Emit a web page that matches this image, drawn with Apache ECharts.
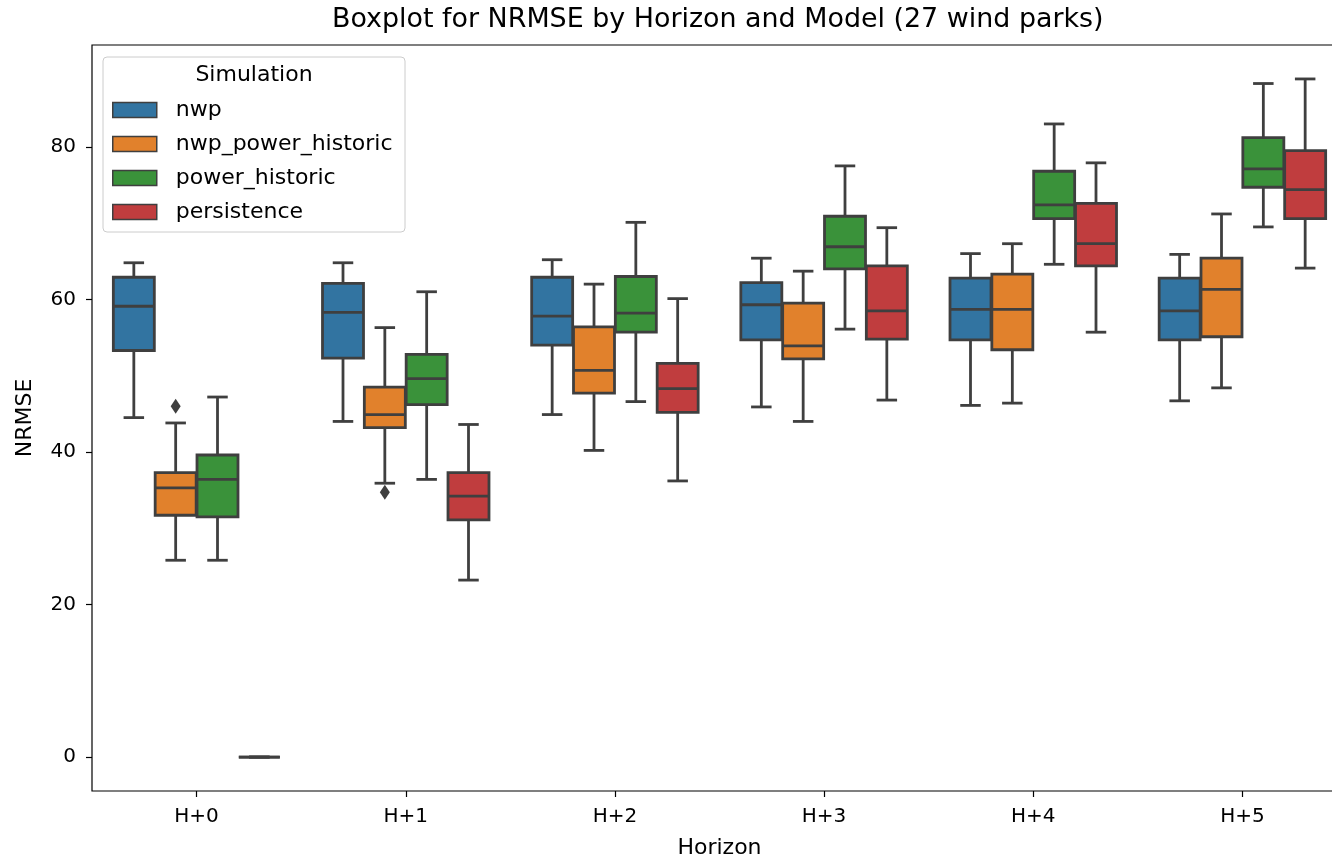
<!DOCTYPE html>
<html>
<head>
<meta charset="utf-8">
<title>Boxplot for NRMSE by Horizon and Model</title>
<script src="https://cdn.jsdelivr.net/npm/echarts@6/dist/echarts.min.js"></script>
<style>
  html, body { margin: 0; padding: 0; background: #fff; }
  #chart { width: 1332px; height: 859px; }
</style>
</head>
<body>
<div id="chart"></div>
<script>
// horizons on the x axis
const horizons = ['H+0', 'H+1', 'H+2', 'H+3', 'H+4', 'H+5']
const modelNames = ['nwp', 'nwp_power_historic', 'power_historic', 'persistence']
const modelColors = ['#3274a1', '#e1812c', '#3a923a', '#c03d3e']

// [whisker low, Q1, median, Q3, whisker high] per horizon
const nwpStats = [
  [44.5, 53.3, 59.1, 62.9, 64.8],
  [44.0, 52.3, 58.3, 62.1, 64.8],
  [44.9, 54.0, 57.8, 62.9, 65.2],
  [45.9, 54.7, 59.3, 62.2, 65.4],
  [46.1, 54.7, 58.7, 62.8, 66.0],
  [46.7, 54.7, 58.5, 62.8, 65.9]
]
const nwpPowerHistoricStats = [
  [25.8, 31.7, 35.3, 37.3, 43.8],
  [35.9, 43.2, 44.9, 48.5, 56.3],
  [40.2, 47.7, 50.7, 56.4, 62.0],
  [44.0, 52.2, 53.9, 59.5, 63.7],
  [46.4, 53.4, 58.7, 63.3, 67.3],
  [48.4, 55.1, 61.3, 65.4, 71.2]
]
const powerHistoricStats = [
  [25.8, 31.5, 36.4, 39.6, 47.2],
  [36.4, 46.2, 49.6, 52.8, 61.0],
  [46.6, 55.7, 58.2, 63.0, 70.1],
  [56.1, 64.0, 66.9, 70.9, 77.5],
  [64.6, 70.6, 72.4, 76.8, 83.0],
  [69.5, 74.7, 77.1, 81.2, 88.3]
]
const persistenceStats = [
  [0, 0, 0, 0, 0],
  [23.2, 31.1, 34.2, 37.3, 43.6],
  [36.2, 45.2, 48.3, 51.6, 60.1],
  [46.8, 54.8, 58.5, 64.4, 69.4],
  [55.7, 64.4, 67.3, 72.6, 77.9],
  [64.1, 70.6, 74.4, 79.5, 88.9]
]
// [horizon index, model index, value]
const outliers = [
  [0, 1, 46.0],
  [1, 1, 34.7]
]
const yTicks = [0, 20, 40, 60, 80]

const allStats = [nwpStats, nwpPowerHistoricStats, powerHistoricStats, persistenceStats]
const lineColor = '#3f3f3f'
const lineW = 2.8
const font = 'DejaVu Sans'

// seaborn style: hue boxes share 0.8 of the band
function hueOffset(band, hue) {
  const slot = band * 0.8 / modelNames.length
  return (hue - (modelNames.length - 1) / 2) * slot
}

function renderBox(hue) {
  return function (params, api) {
    const cat = api.value(0)
    const band = api.size([1, 0])[0]
    const boxW = band * 0.8 / modelNames.length * 0.98
    const cx = api.coord([cat, 0])[0] + hueOffset(band, hue)
    const y = [1, 2, 3, 4, 5].map(i => api.coord([cat, api.value(i)])[1])
    const line = { stroke: lineColor, lineWidth: lineW }
    const cap = boxW / 4
    return {
      type: 'group',
      children: [
        { type: 'line', shape: { x1: cx, y1: y[1], x2: cx, y2: y[0] }, style: line },
        { type: 'line', shape: { x1: cx, y1: y[3], x2: cx, y2: y[4] }, style: line },
        { type: 'line', shape: { x1: cx - cap, y1: y[0], x2: cx + cap, y2: y[0] }, style: line },
        { type: 'line', shape: { x1: cx - cap, y1: y[4], x2: cx + cap, y2: y[4] }, style: line },
        {
          type: 'rect',
          shape: { x: cx - boxW / 2, y: y[3], width: boxW, height: y[1] - y[3] },
          style: { fill: api.visual('color'), stroke: lineColor, lineWidth: lineW }
        },
        { type: 'line', shape: { x1: cx - boxW / 2, y1: y[2], x2: cx + boxW / 2, y2: y[2] }, style: line }
      ]
    }
  }
}

function renderOutlier(params, api) {
  const cat = api.value(0)
  const band = api.size([1, 0])[0]
  const p = api.coord([cat, api.value(2)])
  const cx = p[0] + hueOffset(band, api.value(1))
  const h = 7.5, w = 5
  return {
    type: 'polygon',
    shape: { points: [[cx, p[1] - h], [cx + w, p[1]], [cx, p[1] + h], [cx - w, p[1]]] },
    style: { fill: lineColor }
  }
}

const series = modelNames.map((name, hue) => ({
  name: name,
  type: 'custom',
  renderItem: renderBox(hue),
  itemStyle: { color: modelColors[hue] },
  encode: { x: 0, y: [1, 2, 3, 4, 5] },
  data: allStats[hue].map((s, i) => [i].concat(s))
}))
series.push({
  name: 'outliers',
  type: 'custom',
  renderItem: renderOutlier,
  encode: { x: 0, y: 2 },
  data: outliers
})

const myChart = echarts.init(document.getElementById('chart'))
const options = {
  animation: false,
  textStyle: { fontFamily: font },
  title: {
    text: 'Boxplot for NRMSE by Horizon and Model (27 wind parks)',
    left: 332,
    top: 7,
    padding: 0,
    textStyle: { fontFamily: font, fontSize: 26.9, fontWeight: 'normal', color: '#000' }
  },
  grid: {
    left: 92,
    top: 45,
    width: 1255,
    height: 746,
    show: true,
    borderColor: '#000',
    borderWidth: 1.2,
    containLabel: false,
    outerBoundsMode: 'none'
  },
  legend: {
    data: modelNames,
    orient: 'vertical',
    left: 112,
    top: 99,
    padding: 0,
    icon: 'rect',
    itemWidth: 44,
    itemHeight: 15,
    itemGap: 12,
    itemStyle: { borderColor: lineColor, borderWidth: 1.5 },
    textStyle: { fontFamily: font, fontSize: 22, color: '#000', padding: [0, 0, 0, 14] }
  },
  graphic: [
    {
      type: 'rect',
      z: 0,
      shape: { x: 103, y: 57, width: 302, height: 175, r: 4 },
      style: { fill: 'rgba(255,255,255,0.8)', stroke: '#cccccc', lineWidth: 1 }
    },
    {
      type: 'text',
      z: 1,
      x: 254,
      y: 75,
      style: {
        text: 'Simulation',
        fontFamily: font,
        fontSize: 22,
        fill: '#000',
        align: 'center',
        verticalAlign: 'middle'
      }
    }
  ],
  xAxis: {
    type: 'category',
    data: horizons,
    name: 'Horizon',
    nameLocation: 'middle',
    nameGap: 46,
    nameTextStyle: { fontFamily: font, fontSize: 22, color: '#000' },
    axisLine: { show: false, onZero: false },
    axisTick: { show: true, alignWithLabel: true, length: 6, lineStyle: { color: '#000', width: 1.2 } },
    axisLabel: { fontFamily: font, fontSize: 20, color: '#000', margin: 16 },
    splitLine: { show: false }
  },
  yAxis: {
    type: 'value',
    min: -4.45,
    max: 93.35,
    name: 'NRMSE',
    nameLocation: 'middle',
    nameGap: 56,
    nameTextStyle: { fontFamily: font, fontSize: 22, color: '#000' },
    axisLine: { show: false, onZero: false },
    axisTick: { show: true, length: 6, customValues: yTicks, lineStyle: { color: '#000', width: 1.2 } },
    axisLabel: { fontFamily: font, fontSize: 20, color: '#000', margin: 16, customValues: yTicks },
    splitLine: { show: false }
  },
  series: series
}
myChart.setOption(options)
window.addEventListener('resize', () => {
  myChart.resize()
})
</script>
</body>
</html>
